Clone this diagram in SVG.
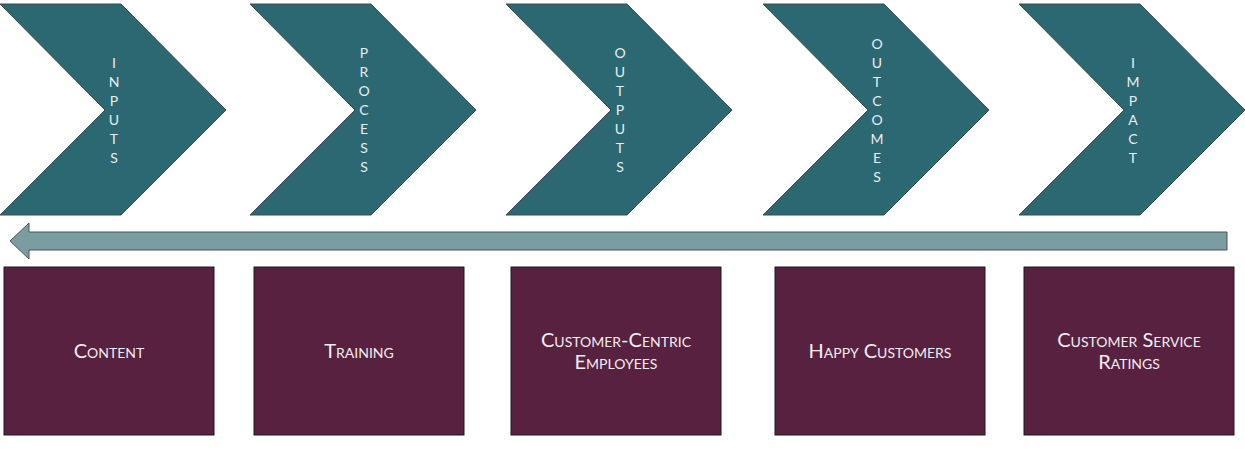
<svg xmlns="http://www.w3.org/2000/svg" width="1245" height="449" viewBox="0 0 1245 449">
<style>
.chev{fill:#2b6872;stroke:#3d4a4c;stroke-width:1}
.ct{font-family:Lato,"Liberation Sans",sans-serif;font-size:14px;fill:#e8eef0;text-anchor:middle}
.box{fill:#58213f;stroke:#1a1a1a;stroke-width:1}
.bt{font-family:Lato,"Liberation Sans",sans-serif;font-size:20px;font-variant:small-caps;fill:#f2eef0;text-anchor:middle}
</style>
<rect width="1245" height="449" fill="#fff"/>
<g id="chev-inputs"><polygon class="chev" points="0,4 121,4 226,110 121,215 0,215 105,110"/>
<text class="ct" x="114"><tspan x="114" y="68">I</tspan><tspan x="114" y="87">N</tspan><tspan x="114" y="106">P</tspan><tspan x="114" y="125">U</tspan><tspan x="114" y="144">T</tspan><tspan x="114" y="163">S</tspan></text></g>
<g id="chev-process"><polygon class="chev" points="250,4 371,4 476,110 371,215 250,215 355,110"/>
<text class="ct"><tspan x="364" y="58">P</tspan><tspan x="364" y="77">R</tspan><tspan x="364" y="96">O</tspan><tspan x="364" y="115">C</tspan><tspan x="364" y="134">E</tspan><tspan x="364" y="153">S</tspan><tspan x="364" y="172">S</tspan></text></g>
<g id="chev-outputs"><polygon class="chev" points="506,4 627,4 732,110 627,215 506,215 611,110"/>
<text class="ct"><tspan x="620" y="58">O</tspan><tspan x="620" y="77">U</tspan><tspan x="620" y="96">T</tspan><tspan x="620" y="115">P</tspan><tspan x="620" y="134">U</tspan><tspan x="620" y="153">T</tspan><tspan x="620" y="172">S</tspan></text></g>
<g id="chev-outcomes"><polygon class="chev" points="763,4 884,4 989,110 884,215 763,215 868,110"/>
<text class="ct"><tspan x="877" y="49">O</tspan><tspan x="877" y="68">U</tspan><tspan x="877" y="87">T</tspan><tspan x="877" y="106">C</tspan><tspan x="877" y="125">O</tspan><tspan x="877" y="144">M</tspan><tspan x="877" y="163">E</tspan><tspan x="877" y="182">S</tspan></text></g>
<g id="chev-impact"><polygon class="chev" points="1019,4 1140,4 1245,110 1140,215 1019,215 1124,110"/>
<text class="ct"><tspan x="1133" y="68">I</tspan><tspan x="1133" y="87">M</tspan><tspan x="1133" y="106">P</tspan><tspan x="1133" y="125">A</tspan><tspan x="1133" y="144">C</tspan><tspan x="1133" y="163">T</tspan></text></g>
<g id="connectors"><polygon points="1227,232 29,232 29,223 10,241 29,259 29,250 1227,250" fill="#7b9ca0" stroke="#4a5658" stroke-width="1"/></g>
<g id="box-content"><rect class="box" x="4" y="267" width="210" height="168"/><text class="bt" x="109" y="358">Content</text></g>
<g id="box-training"><rect class="box" x="254" y="267" width="210" height="168"/><text class="bt" x="359" y="358">Training</text></g>
<g id="box-employees"><rect class="box" x="511" y="267" width="210" height="168"/><text class="bt" x="616" y="347">Customer-Centric</text><text class="bt" x="616" y="369">Employees</text></g>
<g id="box-happy"><rect class="box" x="775" y="267" width="210" height="168"/><text class="bt" x="880" y="358">Happy Customers</text></g>
<g id="box-ratings"><rect class="box" x="1024" y="267" width="210" height="168"/><text class="bt" x="1129" y="347">Customer Service</text><text class="bt" x="1129" y="369">Ratings</text></g>
</svg>
